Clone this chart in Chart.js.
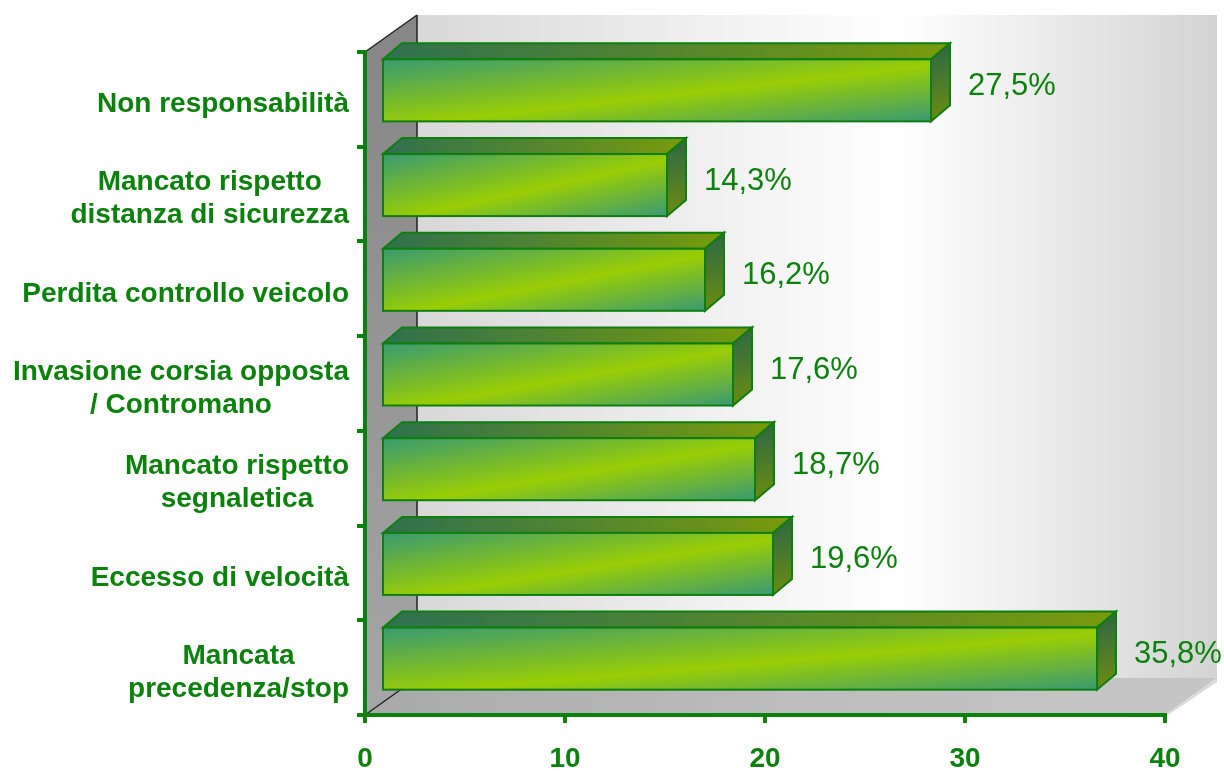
<!DOCTYPE html>
<html>
<head>
<meta charset="utf-8">
<script src="https://cdn.jsdelivr.net/npm/chart.js@4/dist/chart.umd.min.js"></script>
<style>
  html, body { margin: 0; padding: 0; background: #fff; }
  canvas { display: block; }
</style>
</head>
<body>
<canvas id="causeChart" width="1224" height="773"></canvas>
<script>
// Data
const categories = [
    'Non responsabilità',
    ['Mancato rispetto', 'distanza di sicurezza'],
    'Perdita controllo veicolo',
    ['Invasione corsia opposta', '/ Contromano'],
    ['Mancato rispetto', 'segnaletica'],
    'Eccesso di velocità',
    ['Mancata', 'precedenza/stop']
];
const values = [27.5, 14.3, 16.2, 17.6, 18.7, 19.6, 35.8];
const xTicks = [0, 10, 20, 30, 40];

const GREEN = '#0b820b';
const FONT = '"Liberation Sans", Arial, sans-serif';

// depth of the walls and of the bars
const wallDx = 52, wallDy = -37;
const barDx = 16, barDy = -9;
const capDx = 19, capDy = -16;

function poly(ctx, pts) {
    ctx.beginPath();
    ctx.moveTo(pts[0][0], pts[0][1]);
    for (let i = 1; i < pts.length; i++) ctx.lineTo(pts[i][0], pts[i][1]);
    ctx.closePath();
}

const threeD = {
    id: 'threeD',
    beforeDraw(chart) {
        const { ctx, chartArea: a } = chart;
        ctx.save();
        // back wall
        let g = ctx.createLinearGradient(a.left + wallDx, 0, a.right + wallDx, 0);
        g.addColorStop(0, '#d8d8d8');
        g.addColorStop(0.6, '#ffffff');
        g.addColorStop(1, '#d3d3d3');
        ctx.fillStyle = g;
        ctx.fillRect(a.left + wallDx, a.top + wallDy, a.width, a.height);

        // side wall
        g = ctx.createLinearGradient(0, a.top, 0, a.bottom);
        g.addColorStop(0, '#878787');
        g.addColorStop(1, '#a6a6a6');
        ctx.fillStyle = g;
        poly(ctx, [[a.left, a.top], [a.left + wallDx, a.top + wallDy],
                   [a.left + wallDx, a.bottom + wallDy], [a.left, a.bottom]]);
        ctx.fill();

        // floor
        g = ctx.createLinearGradient(a.left, 0, a.right + wallDx, 0);
        g.addColorStop(0, '#a9a9a9');
        g.addColorStop(0.5, '#bdbdbd');
        g.addColorStop(1, '#c6c6c6');
        ctx.fillStyle = g;
        poly(ctx, [[a.left, a.bottom], [a.right, a.bottom],
                   [a.right + wallDx, a.bottom + wallDy], [a.left + wallDx, a.bottom + wallDy]]);
        ctx.fill();
        // floor right edge shade
        ctx.fillStyle = '#d9d9d9';
        poly(ctx, [[a.right, a.bottom], [a.right + wallDx, a.bottom + wallDy],
                   [a.right + wallDx, a.bottom + wallDy + 4], [a.right + 3, a.bottom]]);
        ctx.fill();

        // dark edges
        ctx.strokeStyle = '#222';
        ctx.lineWidth = 1.5;
        ctx.beginPath();
        ctx.moveTo(a.left, a.top);
        ctx.lineTo(a.left + wallDx, a.top + wallDy);
        ctx.moveTo(a.left + wallDx, a.top + wallDy);
        ctx.lineTo(a.left + wallDx, a.bottom + wallDy);
        ctx.moveTo(a.left + wallDx, a.bottom + wallDy);
        ctx.lineTo(a.left, a.bottom);
        ctx.stroke();
        ctx.restore();
    },
    afterDatasetsDraw(chart) {
        const { ctx } = chart;
        const meta = chart.getDatasetMeta(0);
        ctx.save();
        meta.data.forEach((bar, i) => {
            const x0 = bar.base + barDx, x1 = bar.x + barDx;
            const y0 = bar.y - bar.height / 2 + barDy, y1 = bar.y + bar.height / 2 + barDy;
            const w = x1 - x0, h = y1 - y0;

            // top face
            let g = ctx.createLinearGradient(x0, 0, x1 + capDx, 0);
            g.addColorStop(0, '#2f7150');
            g.addColorStop(1, '#789a0c');
            ctx.fillStyle = g;
            poly(ctx, [[x0, y0], [x1, y0], [x1 + capDx, y0 + capDy], [x0 + capDx, y0 + capDy]]);
            ctx.fill();
            ctx.strokeStyle = '#0e7e0e';
            ctx.lineWidth = 2;
            ctx.stroke();

            // side face
            g = ctx.createLinearGradient(x1, y0 + capDy, x1 + capDx, y1);
            g.addColorStop(0, '#2a6649');
            g.addColorStop(1, '#6e8e0e');
            ctx.fillStyle = g;
            poly(ctx, [[x1, y0], [x1 + capDx, y0 + capDy], [x1 + capDx, y1 + capDy], [x1, y1]]);
            ctx.fill();
            ctx.stroke();

            // front face: bright band running from bottom-left to top-right
            const k = 2 * w * h / (w * w + h * h);
            g = ctx.createLinearGradient(x0, y0, x0 + k * h, y0 + k * w);
            g.addColorStop(0, '#3a9a72');
            g.addColorStop(0.55, '#9acd05');
            g.addColorStop(1, '#3a9a72');
            ctx.fillStyle = g;
            ctx.fillRect(x0, y0, w, h);
            ctx.strokeRect(x0, y0, w, h);

            // value label
            ctx.fillStyle = GREEN;
            ctx.font = '31px ' + FONT;
            ctx.textAlign = 'left';
            ctx.textBaseline = 'middle';
            ctx.fillText(values[i].toFixed(1).replace('.', ',') + '%', x1 + capDx + 18, bar.y + barDy - 4);
        });

        // category labels: lines centred in a right-aligned block
        const yScale = chart.scales.y;
        const right = chart.chartArea.left - 16;
        ctx.font = 'bold 28px ' + FONT;
        ctx.fillStyle = GREEN;
        ctx.textAlign = 'center';
        ctx.textBaseline = 'middle';
        categories.forEach((lab, i) => {
            const lines = Array.isArray(lab) ? lab : [lab];
            const maxW = Math.max(...lines.map(l => ctx.measureText(l).width));
            const cx = right - maxW / 2;
            const cy = yScale.getPixelForValue(i) + 5;
            const lh = 33;
            lines.forEach((l, j) => {
                ctx.fillText(l, cx, cy + (j - (lines.length - 1) / 2) * lh);
            });
        });
        ctx.restore();
    }
};

new Chart(document.getElementById('causeChart'), {
    type: 'bar',
    data: {
        labels: categories,
        datasets: [{
            data: values,
            backgroundColor: 'rgba(0,0,0,0)',
            borderWidth: 0,
            barPercentage: 0.655,
            categoryPercentage: 1
        }]
    },
    options: {
        indexAxis: 'y',
        responsive: false,
        animation: false,
        devicePixelRatio: 1,
        layout: { padding: { top: 52, right: 59, left: 0, bottom: 0 } },
        plugins: { legend: { display: false }, tooltip: { enabled: false } },
        scales: {
            x: {
                min: xTicks[0],
                max: xTicks[xTicks.length - 1],
                afterBuildTicks: s => { s.ticks = xTicks.map(v => ({ value: v })); },
                afterFit: s => { s.height = 58; },
                ticks: { color: GREEN, font: { family: FONT, size: 28, weight: 'bold' }, padding: 19, maxRotation: 0 },
                grid: { drawOnChartArea: false, color: GREEN, lineWidth: 4, tickLength: 8 },
                border: { color: GREEN, width: 4 }
            },
            y: {
                afterFit: s => { s.width = 365; },
                ticks: { display: false },
                grid: { drawOnChartArea: false, color: GREEN, lineWidth: 4, tickLength: 8, offset: true },
                border: { color: GREEN, width: 4 }
            }
        }
    },
    plugins: [threeD]
});
</script>
</body>
</html>
